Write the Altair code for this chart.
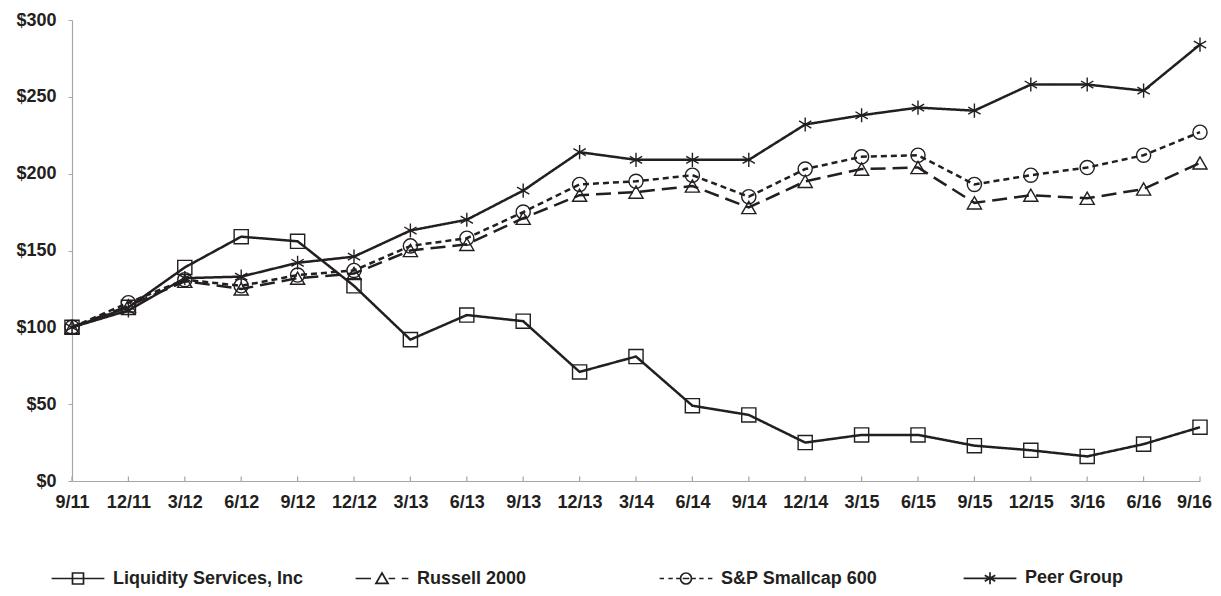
import altair as alt
import pandas as pd

quarters = ["9/11", "12/11", "3/12", "6/12", "9/12", "12/12", "3/13", "6/13", "9/13",
            "12/13", "3/14", "6/14", "9/14", "12/14", "3/15", "6/15", "9/15", "12/15",
            "3/16", "6/16", "9/16"]
series_names = ["Liquidity Services, Inc", "Russell 2000", "S&P Smallcap 600", "Peer Group"]

liquidity = [100, 113, 139, 159, 156, 127, 92, 108, 104, 71, 81, 49, 43, 25, 30, 30, 23, 20, 16, 24, 35]
russell = [100, 114, 130, 125, 132, 135, 150, 154, 171, 186, 188, 192, 178, 195, 203, 204, 181, 186, 184, 190, 207]
sp600 = [100, 116, 131, 127, 134, 137, 153, 158, 175, 193, 195, 199, 185, 203, 211, 212, 193, 199, 204, 212, 227]
peer = [100, 111, 132, 133, 142, 146, 163, 170, 189, 214, 209, 209, 209, 232, 238, 243, 241, 258, 258, 254, 284]

y_ticks = [0, 50, 100, 150, 200, 250, 300]

rows = []
for name, vals in zip(series_names, [liquidity, russell, sp600, peer]):
    for q, v in zip(quarters, vals):
        rows.append({"quarter": q, "series": name, "value": v})
df = pd.DataFrame(rows)
ticks_df = pd.DataFrame({"quarter": quarters, "y0": [0] * len(quarters), "y1": [3] * len(quarters)})

INK = "#231f20"
GRAY = "#a6a6a6"
FONT = "Liberation Sans"

asterisk = "M0,-1L0,1M-0.87,-0.5L0.87,0.5M-0.87,0.5L0.87,-0.5"
marker_shapes = ["square", "triangle-up", "circle", asterisk]

legend_shapes = [
    "M-2.4,0L2.4,0M-0.5,-0.5L0.5,-0.5L0.5,0.5L-0.5,0.5Z",
    "M-2.4,0L-1.0,0M-0.55,0.45L0,-0.5L0.55,0.45ZM0.6,0L1.2,0M1.8,0L2.4,0",
    "M-2.4,0L-2.0,0M-1.6,0L-1.2,0M-0.9,0L-0.5,0M-0.5,0A0.5,0.5 0 1,1 0.5,0A0.5,0.5 0 1,1 -0.5,0M-0.3,0L0.3,0M0.5,0L0.9,0M1.2,0L1.6,0M2.0,0L2.4,0",
    "M-2.4,0L2.4,0M0,-0.55L0,0.55M-0.48,-0.28L0.48,0.28M-0.48,0.28L0.48,-0.28",
]

x_scale = alt.Scale(type="point", padding=0)

x_enc = alt.X(
    "quarter:N",
    sort=quarters,
    scale=x_scale,
    axis=alt.Axis(
        title=None, labelAngle=0, labelFont=FONT, labelFontSize=18, labelFontWeight="bold",
        labelColor=INK, labelPadding=12, ticks=False, domainColor=GRAY,
        domainWidth=1.2, grid=False,
        labelOffset={"condition": {"test": "datum.value == '9/16'", "value": -6}, "value": 0},
    ),
)
y_enc = alt.Y(
    "value:Q",
    scale=alt.Scale(domain=[0, 300], nice=False, zero=True),
    axis=alt.Axis(
        title=None, values=y_ticks, labelExpr="'$' + datum.value", grid=False,
        labelFont=FONT, labelFontSize=18, labelFontWeight="bold", labelColor=INK,
        labelPadding=12, tickSize=4, tickColor=GRAY, domainColor=GRAY, domainWidth=1.2,
    ),
)

x_ticks = alt.Chart(ticks_df).mark_rule(color=GRAY, strokeWidth=1.2).encode(
    x=x_enc,
    y=alt.Y("y0:Q"),
    y2="y1:Q",
)

lines = alt.Chart(df).mark_line(strokeWidth=2.5, color=INK).encode(
    x=x_enc,
    y=y_enc,
    detail="series:N",
    strokeDash=alt.StrokeDash(
        "series:N",
        scale=alt.Scale(domain=series_names, range=[[1, 0], [15, 7], [6, 4], [1, 0]]),
        legend=None,
    ),
)

points = alt.Chart(df).mark_point(filled=False, size=200, strokeWidth=1.4, color=INK, opacity=1).encode(
    x=x_enc,
    y=y_enc,
    shape=alt.Shape("series:N", scale=alt.Scale(domain=series_names, range=marker_shapes), legend=None),
)

legend_layer = alt.Chart(df).mark_point(filled=False, color=INK, opacity=0).encode(
    x=x_enc,
    y=y_enc,
    shape=alt.Shape(
        "series:N",
        scale=alt.Scale(domain=series_names, range=legend_shapes),
        legend=alt.Legend(
            title=None, orient="none", legendX=-6, legendY=546, direction="horizontal",
            columns=4, gridAlign="all", columnPadding=48, symbolSize=484,
            symbolStrokeWidth=1.7, symbolStrokeColor=INK, symbolOpacity=1,
            symbolFillColor="transparent", labelFont=FONT, labelFontSize=18,
            labelFontWeight="bold", labelColor=INK, labelOffset=23, labelLimit=400,
        ),
    ),
)

chart = (
    alt.layer(lines, points, legend_layer, x_ticks)
    .resolve_scale(shape="independent")
    .properties(
        width=1128,
        height=461,
        autosize=alt.AutoSizeParams(type="none"),
        padding={"left": 64, "top": 12, "right": 13, "bottom": 107},
        background="white",
    )
    .configure_view(stroke=None)
)

chart.save("out.html", embed_options={"renderer": "svg", "actions": False})
